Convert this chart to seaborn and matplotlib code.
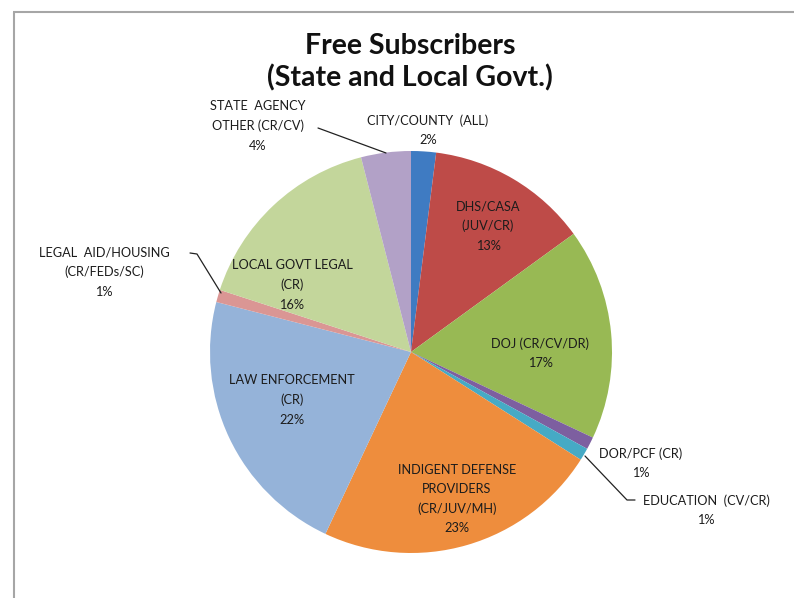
import matplotlib
matplotlib.use("Agg")
import matplotlib.pyplot as plt
import seaborn as sns

# Share of free subscribers by agency group
categories = [
    "CITY/COUNTY  (ALL)",
    "DHS/CASA\n(JUV/CR)",
    "DOJ (CR/CV/DR)",
    "DOR/PCF (CR)",
    "EDUCATION  (CV/CR)",
    "INDIGENT DEFENSE\nPROVIDERS\n(CR/JUV/MH)",
    "LAW ENFORCEMENT\n(CR)",
    "LEGAL  AID/HOUSING\n(CR/FEDs/SC)",
    "LOCAL GOVT LEGAL\n(CR)",
    "STATE  AGENCY\nOTHER (CR/CV)",
]
shares = [2, 13, 17, 1, 1, 23, 22, 1, 16, 4]

colors = sns.color_palette([
    "#3F7BC2", "#BE4B48", "#98B954", "#7D5FA0", "#46AAC5",
    "#EE8D3D", "#95B3D9", "#DA9694", "#C3D69B", "#B2A1C7",
])

sns.set_theme(style="white")
plt.rcParams["font.family"] = ["Lato", "DejaVu Sans"]

W, H = 794, 598
fig = plt.figure(figsize=(W / 100, H / 100), dpi=100)
ax = fig.add_axes([0, 0, 1, 1])

cx, cy, r = 411, H - 352, 201
ax.pie(shares, colors=colors, startangle=90, counterclock=False,
       center=(cx, cy), radius=r, frame=True,
       wedgeprops=dict(linewidth=0))
ax.set_xlim(0, W)
ax.set_ylim(0, H)
ax.axis("off")

# Outer chart frame (top and left edges)
frame_col = "#a6a6a6"
ax.plot([13, W], [H - 12, H - 12], color=frame_col, lw=1.5, solid_capstyle="butt")
ax.plot([14, 14], [H - 12, 0], color=frame_col, lw=1.5, solid_capstyle="butt")

ax.text(410, H - 62, "Free Subscribers\n(State and Local Govt.)",
        ha="center", va="center", fontsize=20.5, fontweight="bold",
        color="#111111", linespacing=1.22)

# Label anchor points (pixel layout, x, y of block centre)
label_pos = [
    (428, 130), (488, 226), (540, 353), (641, 463), (706, 510),
    (457, 499), (292, 400), (104, 272), (292, 285), (258, 126),
]
txt_col = "#1c1c1c"
for name, val, (lx, ly) in zip(categories, shares, label_pos):
    ax.text(lx, H - ly, f"{name}\n{val}%", ha="center", va="center",
            fontsize=9.2, color=txt_col, linespacing=1.72)

# Leader lines for the small slices
lead = dict(color="#222222", lw=0.9)
ax.plot([318, 386], [H - 128, H - 153], **lead)
ax.plot([190, 197, 221], [H - 253, H - 254, H - 293], **lead)
ax.plot([585, 627, 635], [H - 456, H - 500, H - 500], **lead)

fig.savefig("out.png", dpi=100)
